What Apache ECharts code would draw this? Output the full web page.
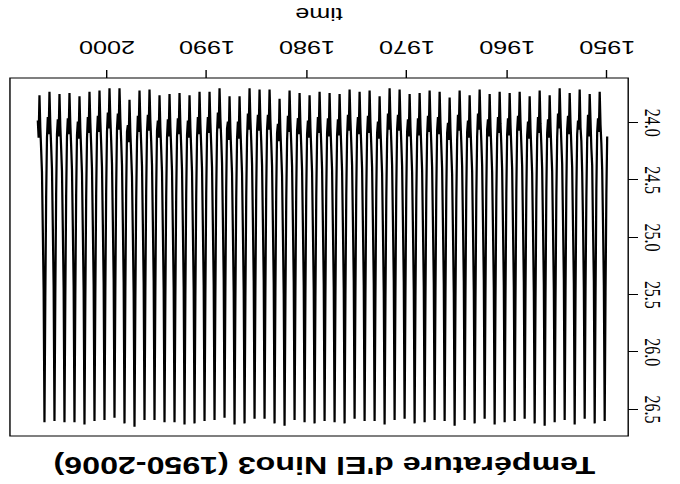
<!DOCTYPE html>
<html><head><meta charset="utf-8">
<script src="https://cdn.jsdelivr.net/npm/echarts@6/dist/echarts.min.js"></script>
<style>
html,body{margin:0;padding:0;background:#fff;overflow:hidden;width:680px;height:484px}
#wrap{position:absolute;left:0;top:0;width:486px;height:484px;transform-origin:0 0;transform:translate(680px,484px) rotate(180deg) scale(1.4,1);}
</style></head><body><div id="wrap"></div>
<script>
const chartTitle = "Température d'El Nino3 (1950-2006)";
const xName = "time";
const startYear = 1950;
const yearTicks = [1950, 1960, 1970, 1980, 1990, 2000];
const tempTicks = [24.0, 24.5, 25.0, 25.5, 26.0, 26.5];

const t1950s = [
24.12,24.63,25.48,26.60,25.42,24.88,24.41,24.18,24.02,23.73,24.08,23.96,
24.08,24.58,25.52,26.62,25.38,24.92,24.37,24.22,23.98,23.75,24.12,23.93,
24.15,24.66,25.45,26.58,25.44,24.86,24.43,24.16,24.04,23.71,24.06,23.98,
24.10,24.61,25.50,26.63,25.40,24.90,24.39,24.20,24.00,23.74,24.10,23.94,
24.06,24.57,25.47,26.59,25.36,24.85,24.36,24.17,23.97,23.70,24.05,23.92,
24.13,24.64,25.53,26.61,25.45,24.93,24.42,24.23,24.03,23.76,24.13,23.97,
24.09,24.60,25.49,26.64,25.41,24.89,24.40,24.19,24.01,23.72,24.09,23.95,
24.14,24.67,25.55,26.62,25.47,24.94,24.44,24.24,24.05,23.77,24.14,23.99,
24.11,24.62,25.46,26.58,25.39,24.87,24.38,24.18,23.99,23.73,24.07,23.94,
24.07,24.59,25.51,26.60,25.43,24.91,24.40,24.21,24.02,23.74,24.11,23.96];
const t1960s = [
24.10,24.62,25.49,26.61,25.42,24.90,24.41,24.19,24.01,23.73,24.09,23.95,
24.13,24.65,25.52,26.63,25.44,24.92,24.43,24.22,24.03,23.75,24.12,23.97,
24.06,24.58,25.46,26.58,25.37,24.86,24.37,24.16,23.98,23.71,24.06,23.92,
24.12,24.64,25.54,26.62,25.46,24.93,24.42,24.23,24.04,23.76,24.13,23.98,
24.08,24.59,25.47,26.59,25.38,24.87,24.38,24.17,23.99,23.72,24.07,23.93,
24.15,24.67,25.53,26.64,25.48,24.95,24.45,24.25,24.06,23.78,24.15,24.00,
24.09,24.61,25.50,26.60,25.41,24.89,24.40,24.20,24.00,23.73,24.10,23.95,
24.07,24.60,25.48,26.59,25.40,24.88,24.39,24.18,23.99,23.72,24.08,23.94,
24.11,24.63,25.51,26.61,25.43,24.91,24.41,24.21,24.02,23.74,24.11,23.96,
24.14,24.66,25.52,26.62,25.45,24.92,24.43,24.22,24.03,23.75,24.12,23.97];
const t1970s = [
24.08,24.60,25.47,26.58,25.39,24.87,24.38,24.17,23.98,23.71,24.07,23.93,
24.06,24.58,25.46,26.59,25.38,24.86,24.37,24.16,23.97,23.70,24.06,23.92,
24.15,24.67,25.54,26.63,25.47,24.94,24.44,24.24,24.05,23.77,24.14,23.99,
24.09,24.61,25.49,26.60,25.40,24.88,24.39,24.19,24.00,23.72,24.09,23.94,
24.10,24.62,25.50,26.60,25.42,24.90,24.40,24.20,24.01,23.73,24.10,23.95,
24.07,24.59,25.47,26.58,25.38,24.86,24.37,24.17,23.98,23.71,24.07,23.93,
24.12,24.64,25.51,26.62,25.44,24.91,24.42,24.21,24.02,23.75,24.11,23.97,
24.11,24.63,25.52,26.61,25.43,24.92,24.41,24.22,24.03,23.74,24.12,23.96,
24.09,24.61,25.49,26.60,25.41,24.89,24.40,24.19,24.00,23.73,24.09,23.95,
24.13,24.65,25.53,26.62,25.45,24.93,24.43,24.23,24.04,23.76,24.13,23.98];
const t1980s = [
24.10,24.62,25.50,26.61,25.42,24.90,24.41,24.20,24.01,23.74,24.10,23.96,
24.07,24.59,25.47,26.59,25.39,24.87,24.38,24.18,23.99,23.72,24.08,23.94,
24.16,24.68,25.56,26.64,25.49,24.96,24.46,24.26,24.07,23.79,24.16,24.01,
24.09,24.60,25.48,26.62,25.40,24.88,24.38,24.17,23.98,23.71,24.06,23.93,
24.06,24.58,25.46,26.58,25.37,24.86,24.37,24.16,23.98,23.71,24.07,23.93,
24.07,24.59,25.46,26.58,25.38,24.85,24.36,24.15,23.97,23.70,24.06,23.92,
24.13,24.65,25.53,26.62,25.46,24.93,24.44,24.24,24.05,23.77,24.14,23.99,
24.14,24.66,25.54,26.63,25.47,24.94,24.44,24.25,24.06,23.77,24.15,23.99,
24.05,24.57,25.45,26.57,25.36,24.84,24.35,24.14,23.96,23.70,24.05,23.91,
24.09,24.61,25.49,26.59,25.41,24.89,24.39,24.19,24.00,23.73,24.09,23.95];
const t1990s = [
24.10,24.62,25.50,26.60,25.42,24.90,24.40,24.20,24.01,23.73,24.10,23.95,
24.13,24.65,25.53,26.62,25.45,24.93,24.43,24.23,24.04,23.76,24.13,23.98,
24.11,24.63,25.51,26.63,25.43,24.90,24.41,24.20,24.01,23.74,24.10,23.96,
24.12,24.64,25.52,26.61,25.44,24.92,24.42,24.22,24.03,23.75,24.12,23.97,
24.13,24.65,25.52,26.61,25.45,24.93,24.43,24.23,24.04,23.76,24.13,23.98,
24.07,24.59,25.47,26.59,25.38,24.86,24.37,24.16,23.98,23.71,24.07,23.93,
24.08,24.60,25.48,26.59,25.40,24.88,24.38,24.18,23.99,23.72,24.08,23.94,
24.16,24.68,25.56,26.65,25.49,24.96,24.47,24.27,24.08,23.80,24.17,24.02,
24.08,24.60,25.48,26.62,25.39,24.87,24.37,24.16,23.97,23.70,24.06,23.92,
24.05,24.57,25.45,26.57,25.36,24.85,24.36,24.15,23.96,23.70,24.05,23.91];
const t2000s = [
24.08,24.60,25.48,26.59,25.40,24.88,24.39,24.18,23.99,23.72,24.08,23.94,
24.10,24.62,25.50,26.60,25.41,24.89,24.40,24.19,24.00,23.73,24.09,23.95,
24.14,24.66,25.54,26.63,25.46,24.94,24.44,24.24,24.05,23.77,24.14,23.99,
24.11,24.63,25.51,26.61,25.42,24.90,24.41,24.20,24.01,23.74,24.10,23.96,
24.12,24.64,25.52,26.61,25.44,24.92,24.42,24.22,24.03,23.75,24.12,23.97,
24.10,24.62,25.50,26.60,25.42,24.90,24.40,24.20,24.01,23.73,24.10,23.95,
24.13,24.65,25.53,26.61,25.45,24.93,24.43,24.23,24.04,23.76,24.13,23.98];

const monthly = [].concat(t1950s, t1960s, t1970s, t1980s, t1990s, t2000s);
const points = monthly.map((v, i) => [startYear + i / 12, v]);

const chart = echarts.init(document.getElementById('wrap'), null, {renderer: 'svg', width: 486, height: 484});
chart.setOption({
  animation: false,
  backgroundColor: '#fff',
  title: {
    text: chartTitle, left: 249, top: 3, textAlign: 'center',
    textStyle: {fontFamily: 'Liberation Sans', fontWeight: 'bold', fontSize: 23, color: '#000'}
  },
  grid: {left: 37, right: 7.4, top: 48, bottom: 76, show: true, borderColor: '#000', borderWidth: 1, backgroundColor: 'transparent'},
  xAxis: {
    type: 'value', min: 1947.9, max: 2009.7,
    name: xName, nameLocation: 'middle', nameGap: 55,
    nameTextStyle: {fontFamily: 'Liberation Sans', fontSize: 18, color: '#000'},
    axisLine: {show: false}, splitLine: {show: false},
    axisTick: {show: true, length: 8, inside: false, customValues: yearTicks, lineStyle: {color: '#000', width: 1}},
    axisLabel: {customValues: yearTicks, margin: 22, fontFamily: 'Liberation Sans', fontSize: 18, color: '#000', formatter: v => String(v)}
  },
  yAxis: {
    type: 'value', min: 23.61, max: 26.73,
    axisLine: {show: false}, splitLine: {show: false},
    axisTick: {show: true, length: 7, inside: false, customValues: tempTicks, lineStyle: {color: '#000', width: 1}},
    axisLabel: {customValues: tempTicks, rotate: 90, margin: 9, fontFamily: 'Liberation Serif', fontSize: 16, color: '#000', formatter: v => v.toFixed(1)}
  },
  series: [{
    type: 'line', data: points, showSymbol: false, symbol: 'none', silent: true,
    lineStyle: {color: '#000', width: 1.6}
  }]
});
</script>
</body></html>
